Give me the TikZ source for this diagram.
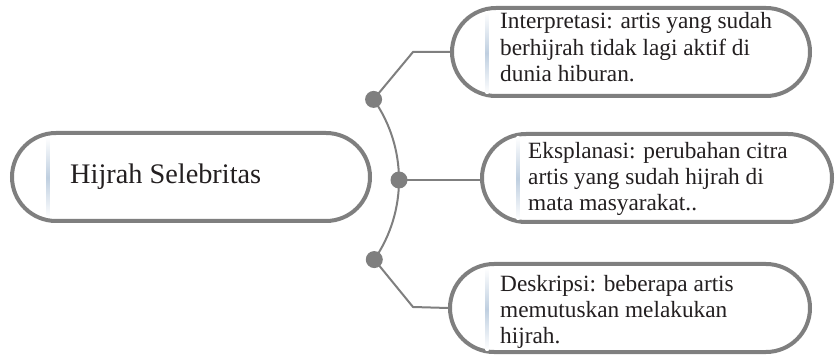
\documentclass[tikz,border=0pt]{standalone}
\usepackage{fontspec}
\setmainfont{Liberation Serif}
\usetikzlibrary{calc}
\definecolor{edge}{HTML}{7F7F7F}
\definecolor{barc}{HTML}{BFCFE0}
\definecolor{ink}{HTML}{231F20}
\begin{document}
\begin{tikzpicture}[x=1pt,y=-1pt,
  box/.style={draw=edge, line width=4pt, fill=white, rounded corners=44pt, inner sep=0pt, minimum height=88pt},
  txt/.style={anchor=north west, inner sep=0pt, align=left, text=ink, font=\fontsize{23.3}{26.3}\selectfont},
  bigtxt/.style={anchor=base west, inner sep=0pt, text=ink, font=\fontsize{28.3}{30}\selectfont},
  dot/.style={circle, fill=edge, inner sep=0pt, minimum size=17pt},
  link/.style={draw=edge, line width=2pt}]
\useasboundingbox (0,0) rectangle (838,355);
% boxes
\node[box, minimum width=358pt] (root) at (191,177) {};
\node[box, minimum width=358pt] (n1) at (631,52) {};
\node[box, minimum width=350pt] (n2) at (657,178) {};
\node[box, minimum width=360pt] (n3) at (630,308) {};
% shaded bars
\foreach \x/\ya/\yb in {48/137/218, 487/12/94, 518/137/220, 487/268/350}{
  \shade[top color=white, bottom color=white, middle color=barc] (\x-1.5,\ya) rectangle (\x+1.5,\yb);
}
% texts
\node[bigtxt] (t0) at (70,184) {Hijrah Selebritas};
\node[txt] (t1) at (500,12.5) {Interpretasi: artis yang sudah\\berhijrah tidak lagi aktif di\\dunia hiburan.};
\node[txt] (t2) at (528,142) {Eksplanasi: perubahan citra\\artis yang sudah hijrah di\\mata masyarakat..};
\node[txt] (t3) at (500,275) {Deskripsi: beberapa artis\\memutuskan melakukan\\hijrah.};
% connectors
\coordinate (c) at (258.5,180);
\coordinate (p1) at ($(c)+(-35:140.5)$);
\coordinate (p2) at ($(c)+(0:140.5)$);
\coordinate (p3) at ($(c)+(34.5:140.5)$);
\coordinate (k1) at (413,52);
\coordinate (k3) at (413,307);
\draw[link] (p1) arc[start angle=-35, end angle=34.5, radius=140.5];
\draw[link] (p1) -- (k1) -- (n1.west);
\draw[link] (p2) -- (p2 -| n2.west);
\draw[link] (p3) -- (k3) -- (n3.west);
\node[dot] (d1) at (p1) {};
\node[dot] (d2) at (p2) {};
\node[dot] (d3) at (p3) {};
\end{tikzpicture}
\end{document}
